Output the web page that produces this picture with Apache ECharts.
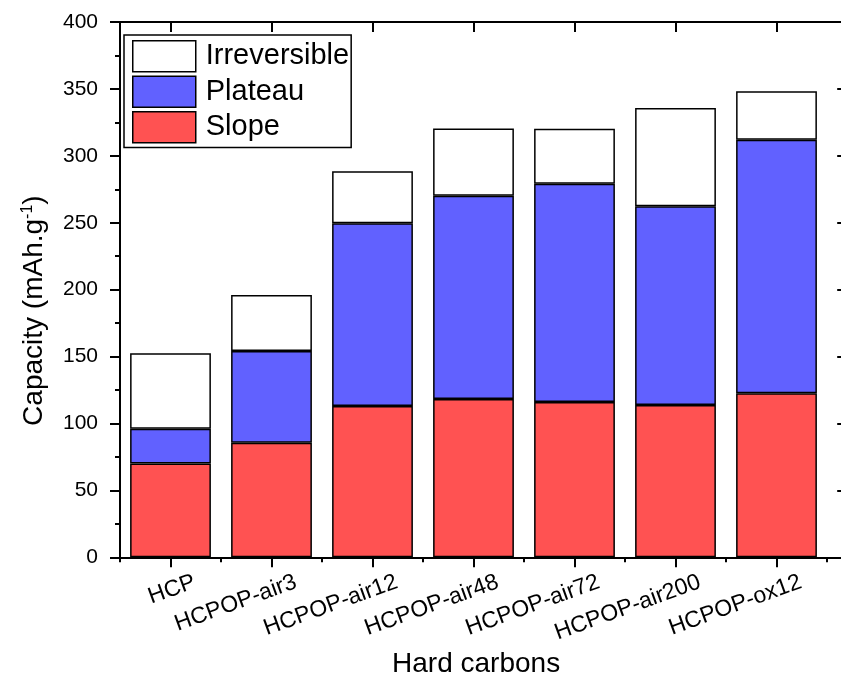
<!DOCTYPE html>
<html><head><meta charset="utf-8">
<script src="https://cdn.jsdelivr.net/npm/echarts@6/dist/echarts.min.js"></script>
<style>html,body{margin:0;padding:0;background:#fff}#c{width:841px;height:676px}</style>
</head><body><div id="c"></div>
<script>
// ---- data ----
const categories = ['HCP', 'HCPOP-air3', 'HCPOP-air12', 'HCPOP-air48', 'HCPOP-air72', 'HCPOP-air200', 'HCPOP-ox12'];
const slope = [70, 85.6, 113, 118.3, 116, 113.8, 122.5];
const plateau = [26, 68.5, 136.6, 151.9, 163.2, 148.5, 189.5];
const irreversible = [56.5, 41.9, 38.8, 50.3, 41.1, 73.4, 36.2];
const seriesNames = ['Slope', 'Plateau', 'Irreversible'];
const legendOrder = ['Irreversible', 'Plateau', 'Slope'];
const yMin = 0, yMax = 400, yStep = 50;
const xTitle = 'Hard carbons';
const yTitle = 'Capacity (mAh.g{sup|-1})';

// ---- build ----
const FONT = '"Liberation Sans", Arial, sans-serif';
const pos = categories.map((c, i) => i + 1);
const bounds = categories.map((c, i) => i + 0.5).concat([categories.length + 0.5]);
const labelShift = 0.24;
const labelPos = pos.map(p => p + labelShift);
const xMin = 0.5, xMax = categories.length + 0.7;
const band = 101, gridLeft = 120, gridTop = 22, gridH = 535.3;

const colors = {Slope: '#FF5252', Plateau: '#6161FF', Irreversible: '#FFFFFF'};
const values = {Slope: slope, Plateau: plateau, Irreversible: irreversible};

const lineStyle = {color: '#000', width: 2};

function xAxisBase(position, extra) {
  return Object.assign({
    type: 'value', gridIndex: 0, position: position, min: xMin, max: xMax,
    splitLine: {show: false},
    axisLine: {show: true, onZero: false, lineStyle: lineStyle},
    axisLabel: {show: false},
    axisTick: {show: false}
  }, extra);
}

const chart = echarts.init(document.getElementById('c'), null, {renderer: 'canvas'});
chart.setOption({
  animation: false,
  backgroundColor: '#fff',
  textStyle: {fontFamily: FONT, color: '#000'},
  grid: [
    {left: gridLeft, top: gridTop, width: band * (xMax - xMin), height: gridH, containLabel: false, outerBoundsMode: 'none'},
    {left: gridLeft, top: gridTop, width: band * categories.length, height: gridH, containLabel: false, outerBoundsMode: 'none'}
  ],
  legend: {
    data: legendOrder,
    orient: 'vertical',
    left: 124, top: 35,
    padding: [5, 2, 4, 8],
    itemWidth: 63, itemHeight: 31, itemGap: 3,
    icon: 'rect',
    borderColor: '#000', borderWidth: 1.5,
    itemStyle: {borderColor: '#000', borderWidth: 1.5},
    textStyle: {fontFamily: FONT, fontSize: 29, color: '#000', lineHeight: 31, padding: [0, 0, 0, 5]}
  },
  xAxis: [
    xAxisBase('bottom', {
      name: xTitle, nameLocation: 'middle', nameGap: 88,
      nameTextStyle: {fontFamily: FONT, fontSize: 28, color: '#000', padding: [0, 15, 0, 0]},
      axisTick: {show: true, customValues: pos, length: 10, lineStyle: {color: '#000', width: 2}},
      axisLabel: {show: true, customValues: labelPos, rotate: 20, margin: 24,
        fontFamily: FONT, fontSize: 23, color: '#000',
        formatter: v => categories[Math.round(v - labelShift) - 1] || ''}
    }),
    xAxisBase('bottom', {
      axisLine: {show: false},
      axisTick: {show: true, customValues: bounds, length: 5, lineStyle: {color: '#000', width: 2}}
    }),
    xAxisBase('top', {
      axisTick: {show: true, inside: true, customValues: pos, length: 10, lineStyle: {color: '#000', width: 2}}
    }),
    xAxisBase('top', {
      axisLine: {show: false},
      axisTick: {show: true, inside: true, customValues: bounds, length: 5, lineStyle: {color: '#000', width: 2}}
    }),
    {
      type: 'category', gridIndex: 1, data: categories, boundaryGap: true,
      axisLine: {show: false}, axisTick: {show: false}, axisLabel: {show: false}, splitLine: {show: false}
    }
  ],
  yAxis: [
    {
      type: 'value', gridIndex: 0, position: 'left', min: yMin, max: yMax, interval: yStep,
      name: yTitle, nameLocation: 'middle', nameGap: 72,
      nameTextStyle: {fontFamily: FONT, fontSize: 28, color: '#000', padding: [0, 42, 0, 0],
        rich: {sup: {fontFamily: FONT, fontSize: 16, color: '#000', verticalAlign: 'top', lineHeight: 16}}},
      splitLine: {show: false},
      axisLine: {show: true, onZero: false, lineStyle: lineStyle},
      axisTick: {show: true, length: 10, lineStyle: {color: '#000', width: 2}},
      minorTick: {show: true, splitNumber: 2, length: 5, lineStyle: {color: '#000', width: 2}},
      axisLabel: {fontFamily: FONT, fontSize: 21, color: '#000', margin: 22}
    },
    {
      type: 'value', gridIndex: 0, position: 'right', min: yMin, max: yMax, interval: yStep,
      splitLine: {show: false},
      axisLine: {show: true, onZero: false, lineStyle: lineStyle},
      axisTick: {show: true, inside: true, length: 10, lineStyle: {color: '#000', width: 2}},
      minorTick: {show: true, splitNumber: 2, length: 5, lineStyle: {color: '#000', width: 2}},
      axisLabel: {show: false}
    },
    {
      type: 'value', gridIndex: 1, min: yMin, max: yMax, interval: yStep,
      axisLine: {show: false}, axisTick: {show: false}, axisLabel: {show: false}, splitLine: {show: false}
    }
  ],
  series: seriesNames.map(n => ({
    name: n, type: 'bar', stack: 'total', xAxisIndex: 4, yAxisIndex: 2,
    barWidth: '80%',
    itemStyle: {color: colors[n], borderColor: '#000', borderWidth: 1.5},
    emphasis: {disabled: true},
    data: values[n]
  }))
});
</script></body></html>
